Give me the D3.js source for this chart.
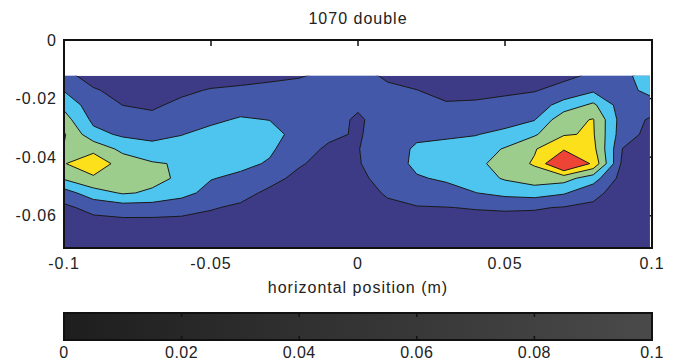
<!DOCTYPE html>
<html>
<head>
<meta charset="utf-8">
<script src="https://cdn.jsdelivr.net/npm/d3@7/dist/d3.min.js"></script>
<style>
  body { margin: 0; background: #fff; }
  svg { display: block; font-family: "Liberation Sans", Arial, sans-serif; }
  .lbl { font-size: 16px; fill: #222; letter-spacing: 1px; }
</style>
</head>
<body>
<svg id="chart" width="676" height="363"></svg>
<script>
// grid positions (m)
const gridX = [-0.1, -0.09, -0.08, -0.07, -0.06, -0.05, -0.04, -0.03, -0.02, -0.01, 0,
               0.01, 0.02, 0.03, 0.04, 0.05, 0.06, 0.07, 0.08, 0.09, 0.1];
const gridY = [-0.0122, -0.0172, -0.0222, -0.0272, -0.0322, -0.0372, -0.0422,
               -0.0472, -0.0522, -0.0572, -0.0622, -0.0672, -0.0722];

// measured level, one row per gridY, one column per gridX
const levelRows = [
  [1.3, 0.6, 0.4, 0.3, 0.4, 0.5, 0.7, 0.85, 0.95, 1.15, 1.35, 0.85, 0.6, 0.4, 0.4, 0.5, 0.55, 0.8, 1.15, 1.85, 2.3],
  [1.95, 1.1, 0.7, 0.55, 0.8, 1.08, 1.15, 1.2, 1.25, 1.4, 1.35, 1.2, 1.02, 0.7, 0.75, 0.85, 0.95, 1.3, 1.85, 1.6, 2.35],
  [2.74, 1.44, 0.99, 0.85, 1.23, 1.44, 1.6, 1.55, 1.45, 1.5, 1.15, 1.4, 1.3, 1.1, 1.13, 1.25, 1.45, 2.4, 3.2, 1.45, 1.55],
  [3.43, 1.77, 1.42, 1.26, 1.6, 1.81, 2.1, 1.98, 1.6, 1.4, 0.85, 1.5, 1.55, 1.5, 1.55, 1.55, 1.95, 3.7, 4.05, 1.5, 0.85],
  [4.1, 2.31, 1.84, 1.72, 1.97, 2.3, 2.4, 2.35, 1.65, 1.2, 0.9, 1.5, 1.8, 1.85, 1.95, 2.3, 2.87, 3.92, 4.1, 1.4, 0.7],
  [3.95, 3.75, 2.72, 2.32, 2.4, 2.55, 2.45, 2.15, 1.4, 0.85, 0.97, 1.5, 2.15, 2.3, 2.5, 3.08, 3.92, 4.88, 4.3, 0.98, 0.6],
  [3.95, 4.6, 3.6, 3.1, 2.9, 2.4, 2.25, 1.9, 1.1, 0.65, 0.95, 1.4, 2.25, 2.5, 2.7, 3.5, 4.1, 6.5, 4.8, 0.75, 0.5],
  [3.13, 3.85, 3.45, 3.25, 2.85, 2.05, 1.78, 1.3, 0.75, 0.55, 0.85, 1.25, 1.9, 2.15, 2.55, 3.1, 3.5, 3.4, 2.45, 0.6, 0.45],
  [1.56, 2.56, 3.1, 2.87, 2.35, 1.65, 1.31, 0.8, 0.6, 0.5, 0.7, 1.08, 1.4, 1.6, 1.98, 2.3, 2.45, 2.1, 1.3, 0.5, 0.4],
  [0.8, 1.3, 1.53, 1.52, 1.36, 1.07, 0.85, 0.6, 0.5, 0.45, 0.55, 0.85, 0.95, 0.98, 1.05, 1.1, 1.07, 0.95, 0.8, 0.45, 0.4],
  [0.6, 0.7, 0.75, 0.75, 0.75, 0.7, 0.65, 0.5, 0.45, 0.4, 0.45, 0.6, 0.7, 0.7, 0.7, 0.7, 0.7, 0.7, 0.6, 0.4, 0.35],
  [0.5, 0.55, 0.55, 0.55, 0.55, 0.55, 0.5, 0.45, 0.4, 0.4, 0.4, 0.5, 0.55, 0.55, 0.55, 0.55, 0.55, 0.55, 0.5, 0.4, 0.35],
  [0.4, 0.45, 0.45, 0.45, 0.45, 0.45, 0.45, 0.4, 0.35, 0.35, 0.35, 0.4, 0.45, 0.45, 0.45, 0.45, 0.45, 0.45, 0.45, 0.35, 0.3]
];

const levels = [1, 2, 3, 4, 5];
const bandColors = ['#3d3b85', '#4358a8', '#4dc5ef', '#9ccd8c', '#fde01c', '#ee4436'];
const xTicks = [-0.1, -0.05, 0, 0.05, 0.1];
const yTicks = [0, -0.02, -0.04, -0.06];
const barTicks = [0, 0.02, 0.04, 0.06, 0.08, 0.1];

const svg = d3.select('#chart');
const pL = 64, pR = 652, pT = 40, pB = 248;

const x = d3.scaleLinear().domain([-0.1, 0.1]).range([pL, pR]);
const y = d3.scaleLinear().domain([-0.071, 0]).range([pB, pT]);
const fmt = v => String(+v.toFixed(3));

// title
svg.append('text')
    .attr('class', 'lbl')
    .attr('x', x(0)).attr('y', 24)
    .attr('text-anchor', 'middle')
    .text('1070 double');

// tick marks (under the filled contours, like matlab)
const ticks = svg.append('g').attr('stroke', '#111').attr('stroke-width', 1.5);
xTicks.forEach(t => {
    ticks.append('line').attr('x1', x(t)).attr('x2', x(t)).attr('y1', pT).attr('y2', pT + 6);
    ticks.append('line').attr('x1', x(t)).attr('x2', x(t)).attr('y1', pB).attr('y2', pB - 6);
});
yTicks.forEach(t => {
    ticks.append('line').attr('x1', pL).attr('x2', pL + 6).attr('y1', y(t)).attr('y2', y(t));
    ticks.append('line').attr('x1', pR).attr('x2', pR - 6).attr('y1', y(t)).attr('y2', y(t));
});

// filled contours
const nx = gridX.length, ny = gridY.length;
const values = levelRows.flat();
const gx = d3.scaleLinear().domain([0.5, nx - 0.5]).range([x(gridX[0]), x(gridX[nx - 1])]);
const gy = d3.scaleLinear().domain([0.5, ny - 0.5]).range([y(gridY[0]), y(gridY[ny - 1])]);
const path = d3.geoPath(d3.geoTransform({
    point: function(px, py) { this.stream.point(gx(px), gy(py)); }
}));

const dataTop = y(gridY[0]);
const defs = svg.append('defs');
defs.append('clipPath').attr('id', 'clip')
    .append('rect')
    .attr('x', pL).attr('y', dataTop)
    .attr('width', x(0.0993) - pL).attr('height', pB - dataTop);

const plot = svg.append('g').attr('clip-path', 'url(#clip)');
plot.append('rect')
    .attr('x', pL).attr('y', dataTop)
    .attr('width', pR - pL).attr('height', pB - dataTop)
    .attr('fill', bandColors[0]);

const contours = d3.contours().size([nx, ny]).thresholds(levels)(values);
plot.selectAll('path')
    .data(contours)
    .enter().append('path')
    .attr('d', path)
    .attr('fill', (d, i) => bandColors[i + 1])
    .attr('stroke', '#1a1a1a')
    .attr('stroke-width', 1)
    .attr('stroke-linejoin', 'round');

// axes box
svg.append('rect')
    .attr('x', pL).attr('y', pT)
    .attr('width', pR - pL).attr('height', pB - pT)
    .attr('fill', 'none').attr('stroke', '#111').attr('stroke-width', 2);

svg.append('g').selectAll('text')
    .data(xTicks)
    .enter().append('text')
    .attr('class', 'lbl')
    .attr('x', d => x(d)).attr('y', 269)
    .attr('text-anchor', 'middle')
    .text(fmt);

svg.append('g').selectAll('text')
    .data(yTicks)
    .enter().append('text')
    .attr('class', 'lbl')
    .attr('x', 57).attr('y', d => y(d))
    .attr('dy', '0.35em')
    .attr('text-anchor', 'end')
    .text(fmt);

svg.append('text')
    .attr('class', 'lbl')
    .attr('x', x(0)).attr('y', 293)
    .attr('text-anchor', 'middle')
    .text('horizontal position (m)');

// colorbar
const cb = d3.scaleLinear().domain([0, 0.1]).range([pL, pR]);
const gray = d3.scaleLinear().domain([0, 0.1]).range(['#1e1e1e', '#4a4a4a']);
const cbTop = 313, cbBottom = 340;

const grad = defs.append('linearGradient')
    .attr('id', 'cbgrad').attr('x1', '0%').attr('x2', '100%');
grad.selectAll('stop')
    .data(barTicks)
    .enter().append('stop')
    .attr('offset', d => (d / 0.1 * 100) + '%')
    .attr('stop-color', d => gray(d));

svg.append('rect')
    .attr('x', pL).attr('y', cbTop)
    .attr('width', pR - pL).attr('height', cbBottom - cbTop)
    .attr('fill', 'url(#cbgrad)')
    .attr('stroke', '#111').attr('stroke-width', 2);

const cbTicks = svg.append('g').attr('stroke', '#111').attr('stroke-width', 1.5);
barTicks.forEach(t => {
    cbTicks.append('line').attr('x1', cb(t)).attr('x2', cb(t)).attr('y1', cbTop).attr('y2', cbTop + 4);
    cbTicks.append('line').attr('x1', cb(t)).attr('x2', cb(t)).attr('y1', cbBottom).attr('y2', cbBottom - 4);
});

svg.append('g').selectAll('text')
    .data(barTicks)
    .enter().append('text')
    .attr('class', 'lbl')
    .style('letter-spacing', '0.5px')
    .attr('x', d => cb(d)).attr('y', 358)
    .attr('text-anchor', 'middle')
    .text(fmt);
</script>
</body>
</html>
